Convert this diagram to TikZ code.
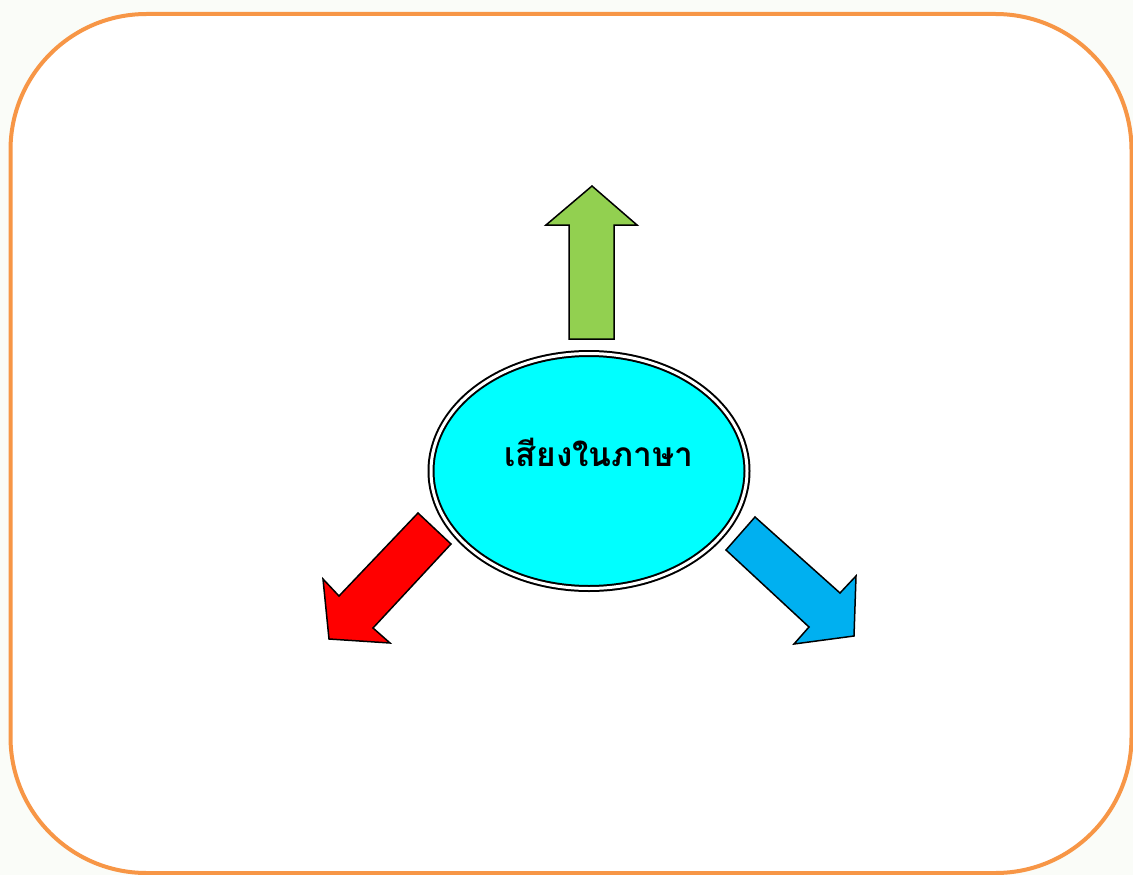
\documentclass[tikz,border=0pt]{standalone}
\usepackage{fontspec}
\newfontfamily\thaifont[Script=Thai]{Loma}
\usetikzlibrary{shapes.geometric}
\definecolor{bgpage}{HTML}{FAFCF8}
\definecolor{frameorange}{HTML}{F79646}
\definecolor{arrgreen}{HTML}{92D050}
\definecolor{arrblue}{HTML}{00B0F0}
\definecolor{hubcyan}{HTML}{00FFFF}
\tikzset{
  bigarrow/.style={draw=black, line width=1.5pt, line join=miter},
  hub/.style={ellipse, draw=black, double=white, double distance=3pt, line width=2pt,
    fill=hubcyan, minimum width=316pt, minimum height=235pt, inner sep=0pt},
  hublabel/.style={font=\thaifont\bfseries\fontsize{33.5}{38}\selectfont, inner sep=0pt}
}
\begin{document}
\begin{tikzpicture}[x=1pt,y=-1pt]
\useasboundingbox (0,0) rectangle (1133,875);
\fill[bgpage] (0,0) rectangle (1133,875);
\begin{scope}
\clip (0,0) rectangle (1133,875);
\draw[frameorange, line width=4pt, fill=white, rounded corners=136pt] (10.5,14) rectangle (1131.5,873);
\end{scope}
% green arrow (up)
\path[bigarrow, fill=arrgreen] (592,186) -- (637,225) -- (614,225) -- (614,339) -- (569,339) -- (569,225) -- (546,225) -- cycle;
% red arrow (down-left)
\path[bigarrow, fill=red] (418,513) -- (451,544) -- (373,628) -- (390,643) -- (329,639) -- (323,579) -- (339,596) -- cycle;
% blue arrow (down-right)
\path[bigarrow, fill=arrblue] (755,517) -- (840,593) -- (856,576) -- (854,636) -- (794,644) -- (809,627) -- (726,550) -- cycle;
% hub
\node[hub] (hub) at (589,471) {};
\node[hublabel] (hubtext) at (599,452) {เสียงในภาษา};
\end{tikzpicture}
\end{document}
